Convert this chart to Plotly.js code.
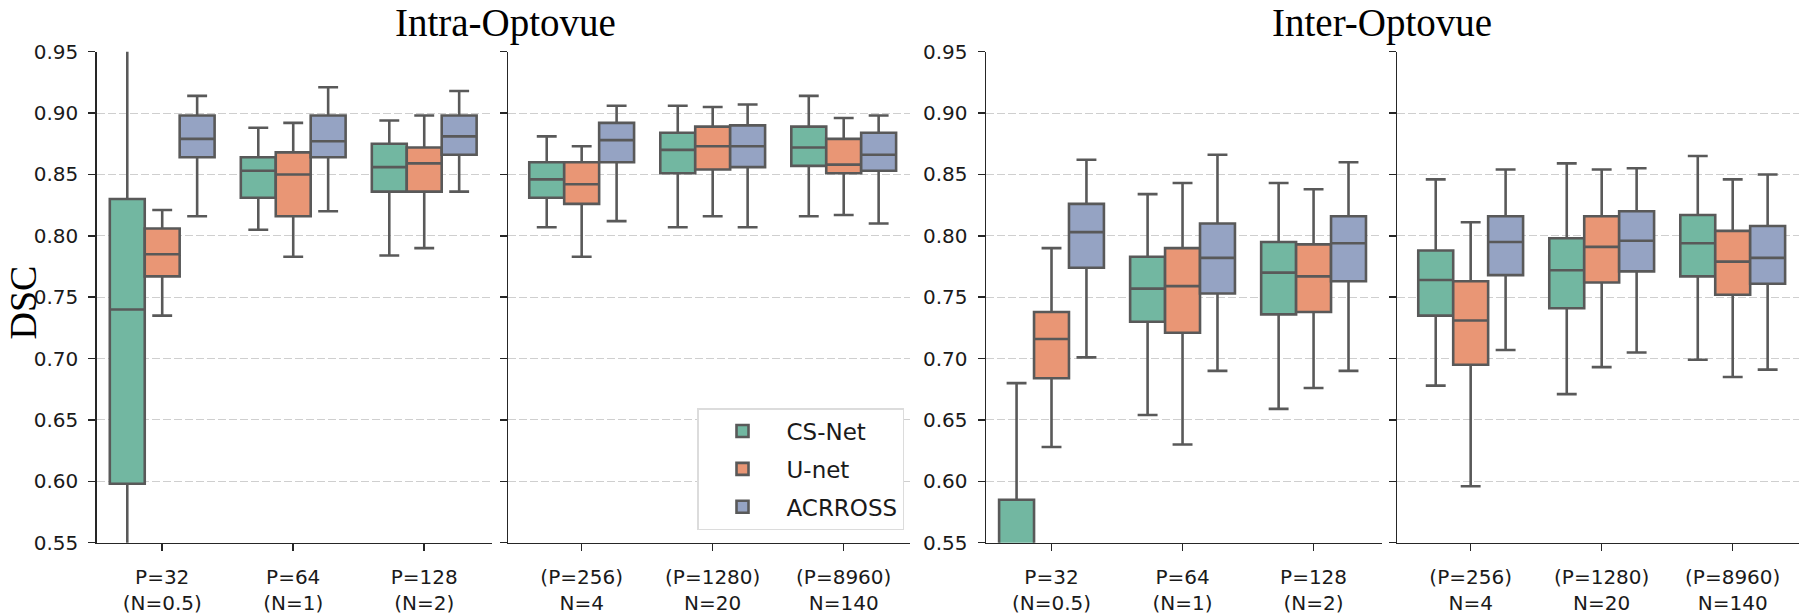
<!DOCTYPE html>
<html>
<head>
<meta charset="utf-8">
<script src="https://cdn.plot.ly/plotly-3.0.1.min.js"></script>
<style>html,body{margin:0;padding:0;background:#fff;}#chart{width:1800px;height:616px;}</style>
</head>
<body>
<div id="chart"></div>
<script>
// ---- Data (each entry: [lower whisker, Q1, median, Q3, upper whisker]) ----
const labelsLow  = ["P=32<br>(N=0.5)", "P=64<br>(N=1)", "P=128<br>(N=2)"];
const labelsHigh = ["(P=256)<br>N=4", "(P=1280)<br>N=20", "(P=8960)<br>N=140"];
const models = ["CS-Net", "U-net", "ACRROSS"];
const modelColors = ["#72b7a1", "#e99675", "#95a3c3"];

// Intra-Optovue, left panel
const intraLowCSNet   = [[0.50, 0.598, 0.740, 0.830, 0.99], [0.805, 0.831, 0.853, 0.864, 0.888], [0.784, 0.836, 0.856, 0.875, 0.894]];
const intraLowUnet    = [[0.735, 0.767, 0.785, 0.806, 0.821], [0.783, 0.816, 0.850, 0.868, 0.892], [0.790, 0.836, 0.859, 0.872, 0.898]];
const intraLowAcrross = [[0.816, 0.864, 0.879, 0.898, 0.914], [0.820, 0.864, 0.877, 0.898, 0.921], [0.836, 0.866, 0.881, 0.898, 0.918]];
// Intra-Optovue, right panel
const intraHighCSNet   = [[0.807, 0.831, 0.846, 0.860, 0.881], [0.807, 0.851, 0.870, 0.884, 0.906], [0.816, 0.857, 0.872, 0.889, 0.914]];
const intraHighUnet    = [[0.783, 0.826, 0.842, 0.860, 0.873], [0.816, 0.854, 0.873, 0.889, 0.905], [0.817, 0.851, 0.858, 0.879, 0.896]];
const intraHighAcrross = [[0.812, 0.860, 0.878, 0.892, 0.906], [0.807, 0.856, 0.873, 0.890, 0.907], [0.810, 0.853, 0.866, 0.884, 0.898]];
// Inter-Optovue, left panel
const interLowCSNet   = [[0.45, 0.50, 0.535, 0.585, 0.680], [0.654, 0.730, 0.757, 0.783, 0.834], [0.659, 0.736, 0.770, 0.795, 0.843]];
const interLowUnet    = [[0.628, 0.684, 0.716, 0.738, 0.790], [0.630, 0.721, 0.759, 0.790, 0.843], [0.676, 0.738, 0.767, 0.793, 0.838]];
const interLowAcrross = [[0.701, 0.774, 0.803, 0.826, 0.862], [0.690, 0.753, 0.782, 0.810, 0.866], [0.690, 0.763, 0.794, 0.816, 0.860]];
// Inter-Optovue, right panel
const interHighCSNet   = [[0.678, 0.735, 0.764, 0.788, 0.846], [0.671, 0.741, 0.772, 0.798, 0.859], [0.699, 0.767, 0.794, 0.817, 0.865]];
const interHighUnet    = [[0.596, 0.695, 0.731, 0.763, 0.811], [0.693, 0.762, 0.791, 0.816, 0.854], [0.685, 0.752, 0.779, 0.804, 0.846]];
const interHighAcrross = [[0.707, 0.768, 0.795, 0.816, 0.854], [0.705, 0.771, 0.796, 0.820, 0.855], [0.691, 0.761, 0.782, 0.808, 0.850]];

const yTicks = [0.55, 0.60, 0.65, 0.70, 0.75, 0.80, 0.85, 0.90, 0.95];

// ---- Build traces ----
const panels = [
  {xa: "x",  ya: "y",  labels: labelsLow,  series: [intraLowCSNet, intraLowUnet, intraLowAcrross], legend: true},
  {xa: "x2", ya: "y2", labels: labelsHigh, series: [intraHighCSNet, intraHighUnet, intraHighAcrross], legend: false},
  {xa: "x3", ya: "y3", labels: labelsLow,  series: [interLowCSNet, interLowUnet, interLowAcrross], legend: false},
  {xa: "x4", ya: "y4", labels: labelsHigh, series: [interHighCSNet, interHighUnet, interHighAcrross], legend: false}
];
const lineGray = "#595959";
const traces = [];
panels.forEach((p, pi) => {
  p.series.forEach((s, i) => {
    traces.push({
      type: "box",
      name: models[i],
      legendgroup: models[i],
      offsetgroup: models[i],
      alignmentgroup: "panel" + pi,
      showlegend: p.legend,
      xaxis: p.xa, yaxis: p.ya,
      x: p.labels,
      lowerfence: s.map(d => d[0]),
      q1: s.map(d => d[1]),
      median: s.map(d => d[2]),
      q3: s.map(d => d[3]),
      upperfence: s.map(d => d[4]),
      boxpoints: false,
      fillcolor: modelColors[i],
      line: {color: lineGray, width: 2.6},
      whiskerwidth: 0.57,
      hoverinfo: "skip"
    });
  });
});

// ---- Layout ----
const W = 1800, H = 616;
const yTopPx = 51.7, yBotPx = 542.7;
const yDom = [1 - yBotPx / H, 1 - yTopPx / H];
const axisColor = "#262626";
const tickFont = {family: "DejaVu Sans, sans-serif", size: 20, color: "#1a1a1a"};
const serif = "Liberation Serif, Times New Roman, serif";

function xAxis(pxL, pxR, range, yanchor, labels) {
  return {
    domain: [pxL / W, pxR / W], range: range, anchor: yanchor,
    type: "category", categoryorder: "array", categoryarray: labels,
    showline: true, linecolor: axisColor, linewidth: 1.5,
    ticks: "outside", ticklen: 7, tickwidth: 1.5, tickcolor: axisColor,
    showgrid: false, zeroline: false, tickfont: tickFont,
    ticklabelstandoff: 9
  };
}
function yAxis(xanchor, showLabels) {
  return {
    domain: yDom, range: [0.55, 0.95], anchor: xanchor,
    tickvals: yTicks, ticktext: yTicks.map(v => v.toFixed(2)),
    showticklabels: showLabels,
    showline: true, linecolor: axisColor, linewidth: 1.5,
    ticks: "outside", ticklen: 7, tickwidth: 1.5, tickcolor: axisColor,
    showgrid: true, gridcolor: "#cfcfcf", gridwidth: 1, griddash: "8px,3px",
    zeroline: false, tickfont: tickFont, ticklabelstandoff: 6
  };
}

const layout = {
  width: W, height: H,
  margin: {l: 0, r: 0, t: 0, b: 0, pad: 0},
  paper_bgcolor: "#ffffff", plot_bgcolor: "rgba(0,0,0,0)",
  boxmode: "group", boxgap: 0.2, boxgroupgap: 0,
  showlegend: true,
  legend: {
    x: 904 / W, y: 1 - 530 / H, xanchor: "right", yanchor: "bottom",
    bgcolor: "#ffffff", bordercolor: "#dcdcdc", borderwidth: 1.5,
    font: {family: "DejaVu Sans, sans-serif", size: 23, color: "#1a1a1a"},
    tracegroupgap: 5, itemwidth: 78
  },
  xaxis:  xAxis(96.7, 491.7, [-0.5, 2.515], "y", labelsLow),
  xaxis2: xAxis(508.3, 910, [-0.56, 2.506], "y2", labelsHigh),
  xaxis3: xAxis(986, 1381.7, [-0.5, 2.52], "y3", labelsLow),
  xaxis4: xAxis(1397.3, 1799, [-0.56, 2.506], "y4", labelsHigh),
  yaxis:  yAxis("x", true),
  yaxis2: yAxis("x2", false),
  yaxis3: yAxis("x3", true),
  yaxis4: yAxis("x4", false),
  annotations: [
    {text: "Intra-Optovue", xref: "paper", yref: "paper", x: 505 / W, y: 1,
     xanchor: "center", yanchor: "top", showarrow: false, borderpad: 0,
     font: {family: serif, size: 39, color: "#000"}},
    {text: "Inter-Optovue", xref: "paper", yref: "paper", x: 1381.5 / W, y: 1,
     xanchor: "center", yanchor: "top", showarrow: false, borderpad: 0,
     font: {family: serif, size: 39, color: "#000"}},
    {text: "DSC", xref: "paper", yref: "paper", x: 0, y: 1 - 302.5 / H,
     xanchor: "left", yanchor: "middle", textangle: -90, showarrow: false, borderpad: 0,
     font: {family: serif, size: 38, color: "#000"}}
  ]
};

Plotly.newPlot("chart", traces, layout, {staticPlot: true, displayModeBar: false});
</script>
</body>
</html>
